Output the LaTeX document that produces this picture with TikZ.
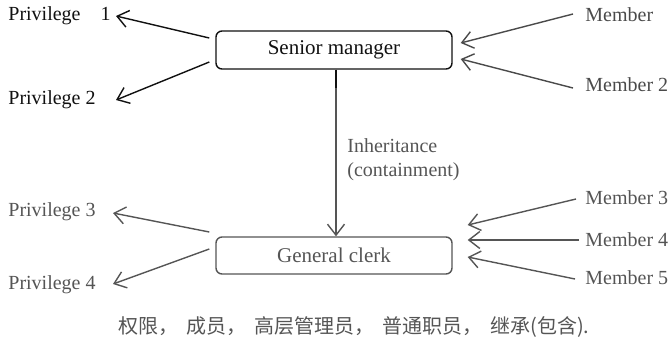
\documentclass[tikz,border=0pt]{standalone}
\usepackage{fontspec}
\setmainfont{Liberation Serif}
\newfontfamily\cjk{Noto Sans CJK SC}
\usetikzlibrary{arrows.meta}
\definecolor{dk}{HTML}{111111}
\definecolor{gr}{HTML}{555555}
\definecolor{gm}{HTML}{4A4A4A}
\begin{document}
\begin{tikzpicture}[x=0.5pt,y=-0.5pt,
  lbl/.style={inner sep=0pt,anchor=west,font=\fontsize{10}{12}\selectfont},
  boxn/.style={draw,rounded corners=3pt,line width=0.7pt,minimum width=118pt,font=\fontsize{10.5}{12}\selectfont,inner sep=0pt},
  arr/.style={-{Straight Barb[length=5.5pt,width=8.5pt,line width=0.7pt]},line width=0.7pt}]
\useasboundingbox (0,0) rectangle (670,339);
\node[boxn,dk,minimum height=19pt] (sm) at (334,50) {Senior manager};
\node[boxn,gr,minimum height=18.5pt] (gc) at (334,255.5) {General clerk};
\node[lbl,dk] (p1) at (8,16) {Privilege\hspace{10pt}1};
\node[lbl,dk] (p2) at (8,100) {Privilege 2};
\node[lbl,gm] (m1) at (585,15) {Member};
\node[lbl,gm] (m2) at (585,85) {Member 2};
\node[lbl,gr] (p3) at (8,212) {Privilege 3};
\node[lbl,gr] (p4) at (8,285) {Privilege 4};
\node[lbl,gr] (m3) at (585,198) {Member 3};
\node[lbl,gr] (m4) at (585,240) {Member 4};
\node[lbl,gr] (m5) at (585,278) {Member 5};
\node[lbl,gr,align=left,font=\fontsize{10}{12}\selectfont] (inh) at (347,160) {Inheritance\\(containment)};
\node[inner sep=0pt,anchor=west,gr,font=\cjk\fontsize{10}{12}\selectfont] (cap) at (118,327) {权限，\hspace{4pt}成员，\hspace{4pt}高层管理员，\hspace{4pt}普通职员，\hspace{4pt}继承(包含).};
% top
\draw[arr,dk] ([shift={(-6,-12)}]sm.west) -- ([shift={(5,0)}]p1.east);
\draw[arr,dk] ([shift={(-6,12)}]sm.west) -- ([shift={(20,0)}]p2.east);
\draw[arr,gm] ([shift={(-12,-1)}]m1.west) -- ([shift={(8,-7)}]sm.east);
\draw[arr,gm] ([shift={(-12,3)}]m2.west) -- ([shift={(8,9)}]sm.east);
% inheritance
\draw[gr,line width=0.7pt,-{Straight Barb[length=5.5pt,width=8.5pt,line width=0.7pt]}] ([xshift=1pt]sm.south) -- ([xshift=1pt]gc.north);
\draw[dk,line width=0.7pt] ([xshift=1pt]sm.south) -- ++(0,18);
% bottom
\draw[arr,gr] ([shift={(-6,-23.5)}]gc.west) -- ([shift={(17,1)}]p3.east);
\draw[arr,gr] ([shift={(-6,-6.5)}]gc.west) -- ([shift={(17,-1)}]p4.east);
\draw[arr,gr] ([shift={(-9,1)}]m3.west) -- ([shift={(15,-30.5)}]gc.east);
\draw[arr,gr] ([shift={(-6,0)}]m4.west) -- ([shift={(15,-15.5)}]gc.east);
\draw[arr,gr] ([shift={(-10,1)}]m5.west) -- ([shift={(15,1.5)}]gc.east);
\end{tikzpicture}
\end{document}
